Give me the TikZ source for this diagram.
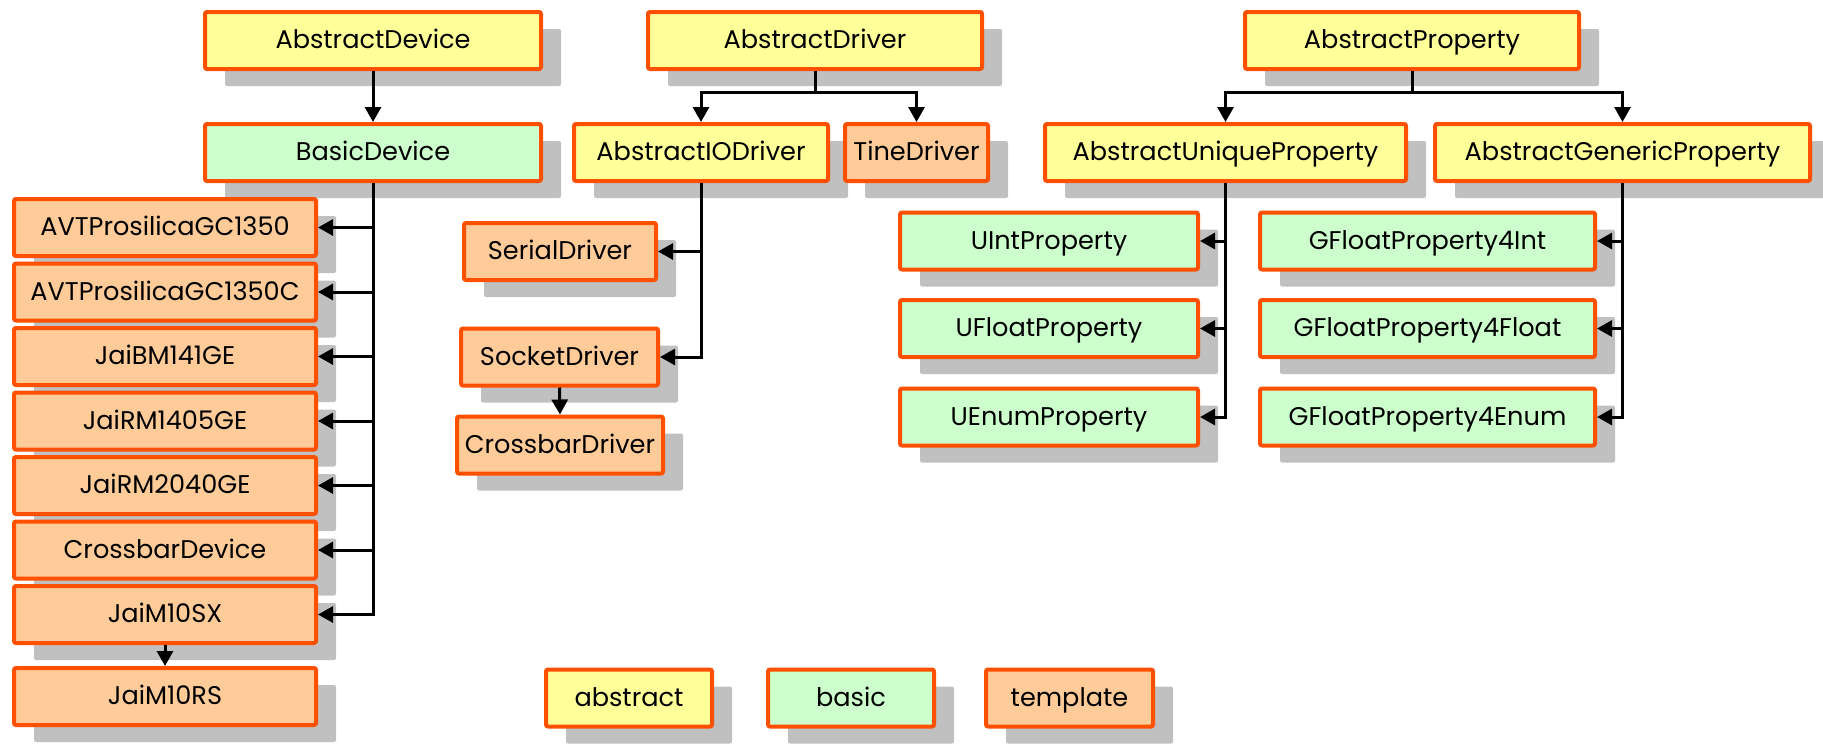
\documentclass[tikz,border=0pt]{standalone}
\usepackage{fontspec}
\setmainfont{Poppins}
\usepackage{xcolor}
\usepackage{tikz}
\usetikzlibrary{shadows,arrows.meta}

\definecolor{edgeorange}{HTML}{FF5000}
\definecolor{absyellow}{HTML}{FFFF99}
\definecolor{basgreen}{HTML}{CCFFCC}
\definecolor{tmplorange}{HTML}{FFCC99}
\definecolor{shadowgray}{HTML}{C0C0C0}

\tikzset{
  cls/.style={draw=edgeorange, line width=2pt, rounded corners=1pt,
    minimum height=28.5pt, inner sep=0pt, text height=1em, text depth=0.2em,
    font=\fontsize{12.8}{15}\selectfont,
    drop shadow={shadow xshift=10pt, shadow yshift=-8.5pt, fill=shadowgray, opacity=1}},
  abstractcls/.style={cls, fill=absyellow},
  basiccls/.style={cls, fill=basgreen},
  templcls/.style={cls, fill=tmplorange},
  inherit/.style={-{Triangle[length=7.5pt,width=8pt]}, line width=1.5pt},
  link/.style={line width=1.5pt}
}

\begin{document}
\begin{tikzpicture}[x=0.5pt, y=-0.5pt]
\useasboundingbox (0,0) rectangle (1823,744);

\node[abstractcls, minimum width=168pt] (AbstractDevice) at (373,40.5) {AbstractDevice};
\node[abstractcls, minimum width=167pt] (AbstractDriver) at (815,40.5) {AbstractDriver};
\node[abstractcls, minimum width=167pt] (AbstractProperty) at (1412,40.5) {AbstractProperty};

\node[basiccls, minimum width=168pt] (BasicDevice) at (373,152.5) {BasicDevice};
\node[abstractcls, minimum width=127pt] (AbstractIODriver) at (701,152.5) {AbstractIODriver};
\node[templcls, minimum width=71.5pt] (TineDriver) at (916.5,152.5) {TineDriver};
\node[abstractcls, minimum width=180.5pt] (AbstractUniqueProperty) at (1225.5,152.5) {AbstractUniqueProperty};
\node[abstractcls, minimum width=187.5pt] (AbstractGenericProperty) at (1622.5,152.5) {AbstractGenericProperty};

\node[templcls, minimum width=151pt] (AVTProsilicaGC1350) at (165,227.5) {AVTProsilicaGC1350};
\node[templcls, minimum width=151pt] (AVTProsilicaGC1350C) at (165,292) {AVTProsilicaGC1350C};
\node[templcls, minimum width=151pt] (JaiBM141GE) at (165,356.5) {JaiBM141GE};
\node[templcls, minimum width=151pt] (JaiRM1405GE) at (165,421) {JaiRM1405GE};
\node[templcls, minimum width=151pt] (JaiRM2040GE) at (165,485.5) {JaiRM2040GE};
\node[templcls, minimum width=151pt] (CrossbarDevice) at (165,550) {CrossbarDevice};
\node[templcls, minimum width=151pt] (JaiM10SX) at (165,614.5) {JaiM10SX};
\node[templcls, minimum width=151pt] (JaiM10RS) at (165,696.5) {JaiM10RS};

\node[templcls, minimum width=96pt] (SerialDriver) at (560,251.5) {SerialDriver};
\node[templcls, minimum width=98.5pt] (SocketDriver) at (559.5,357) {SocketDriver};
\node[templcls, minimum width=103pt] (CrossbarDriver) at (560,445) {CrossbarDriver};

\node[basiccls, minimum width=149pt] (UIntProperty) at (1049,241) {UIntProperty};
\node[basiccls, minimum width=149pt] (UFloatProperty) at (1049,328.5) {UFloatProperty};
\node[basiccls, minimum width=149pt] (UEnumProperty) at (1049,417) {UEnumProperty};
\node[basiccls, minimum width=167.5pt] (GFloatProperty4Int) at (1427.5,241) {GFloatProperty4Int};
\node[basiccls, minimum width=167.5pt] (GFloatProperty4Float) at (1427.5,328.5) {GFloatProperty4Float};
\node[basiccls, minimum width=167.5pt] (GFloatProperty4Enum) at (1427.5,417) {GFloatProperty4Enum};

\node[abstractcls, minimum width=83pt] (abstract) at (629,698) {abstract};
\node[basiccls, minimum width=83pt] (basic) at (851,698) {basic};
\node[templcls, minimum width=83.5pt] (template) at (1069.5,698) {template};

\coordinate (drvsplit) at (815,92);
\coordinate (propsplit) at (1412,92);

\draw[inherit] (AbstractDevice.south) -- (BasicDevice.north);
\draw[link] (AbstractDriver.south) -- (drvsplit);
\draw[inherit] (drvsplit) -| (AbstractIODriver.north);
\draw[inherit] (drvsplit) -| (TineDriver.north);
\draw[link] (AbstractProperty.south) -- (propsplit);
\draw[inherit] (propsplit) -| (AbstractUniqueProperty.north);
\draw[inherit] (propsplit) -| (AbstractGenericProperty.north);

\draw[inherit] (BasicDevice.south) |- (AVTProsilicaGC1350.east);
\draw[inherit] (BasicDevice.south) |- (AVTProsilicaGC1350C.east);
\draw[inherit] (BasicDevice.south) |- (JaiBM141GE.east);
\draw[inherit] (BasicDevice.south) |- (JaiRM1405GE.east);
\draw[inherit] (BasicDevice.south) |- (JaiRM2040GE.east);
\draw[inherit] (BasicDevice.south) |- (CrossbarDevice.east);
\draw[inherit] (BasicDevice.south) |- (JaiM10SX.east);
\draw[inherit] (JaiM10SX.south) -- (JaiM10RS.north);

\draw[inherit] (AbstractIODriver.south) |- (SerialDriver.east);
\draw[inherit] (AbstractIODriver.south) |- (SocketDriver.east);
\draw[inherit] (SocketDriver.south) -- (CrossbarDriver.north);

\draw[inherit] (AbstractUniqueProperty.south) |- (UIntProperty.east);
\draw[inherit] (AbstractUniqueProperty.south) |- (UFloatProperty.east);
\draw[inherit] (AbstractUniqueProperty.south) |- (UEnumProperty.east);
\draw[inherit] (AbstractGenericProperty.south) |- (GFloatProperty4Int.east);
\draw[inherit] (AbstractGenericProperty.south) |- (GFloatProperty4Float.east);
\draw[inherit] (AbstractGenericProperty.south) |- (GFloatProperty4Enum.east);
\end{tikzpicture}
\end{document}
